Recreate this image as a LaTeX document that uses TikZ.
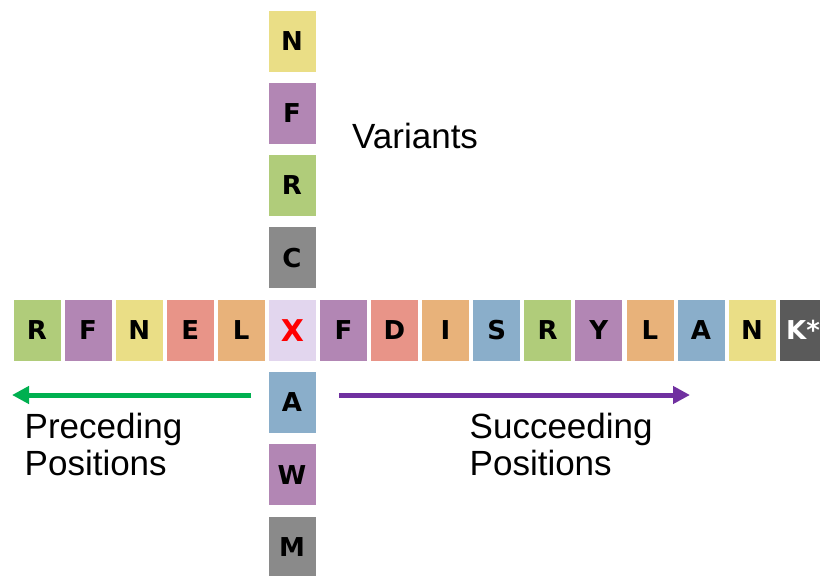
\documentclass[tikz,border=0pt]{standalone}
\usepackage{fontspec}
\setmainfont{Liberation Sans}
\newfontfamily\cellfont{DejaVu Sans}
\usetikzlibrary{arrows.meta}

\definecolor{cgreen}{RGB}{176,204,122}
\definecolor{cpurple}{RGB}{178,134,180}
\definecolor{cyellow}{RGB}{234,222,134}
\definecolor{csalmon}{RGB}{232,148,136}
\definecolor{corange}{RGB}{232,178,122}
\definecolor{cblue}{RGB}{138,174,202}
\definecolor{clav}{RGB}{226,214,238}
\definecolor{cgray}{RGB}{138,138,138}
\definecolor{cdark}{RGB}{90,90,90}
\definecolor{arrgreen}{RGB}{0,176,80}
\definecolor{arrpurple}{RGB}{112,48,160}

\tikzset{
  cell/.style={minimum width=48pt, minimum height=62pt, inner sep=0pt,
    draw=white, line width=0.6pt,
    font=\cellfont\bfseries\fontsize{26}{26}\selectfont,
    text height=19pt, text depth=0pt},
  G/.style={cell, fill=cgreen},
  P/.style={cell, fill=cpurple},
  Y/.style={cell, fill=cyellow},
  S/.style={cell, fill=csalmon},
  O/.style={cell, fill=corange},
  B/.style={cell, fill=cblue},
  H/.style={cell, fill=cgray},
  D/.style={cell, fill=cdark, text=white},
  Xc/.style={cell, fill=clav, text=red,
    font=\cellfont\bfseries\fontsize{30}{30}\selectfont, text height=22pt},
  label text/.style={inner sep=0pt, align=left,
    font=\fontsize{35}{37}\selectfont},
  pos arrow/.style={line width=5pt,
    -{Triangle[length=17pt, width=17pt]}}
}

\begin{document}
\begin{tikzpicture}[x=1pt, y=-1pt]
\useasboundingbox (0,0) rectangle (820,576);
\clip (0,0) rectangle (820,576);

% the sequence row
\foreach \l/\s [count=\i from 0] in
  {R/G, F/P, N/Y, E/S, L/O, X/Xc, F/P, D/S, I/O, S/B, R/G, Y/P, L/O, A/B, N/Y, K*/D}
  \node[\s] (r\i) at ({37+51.07*\i},330) {\l};

% variants above the central position
\foreach \l/\s [count=\k] in {C/H, R/G, F/P, N/Y}
  \node[\s] (v\k) at (292,{330-72.3*\k}) {\l};

% variants below the central position
\foreach \l/\s [count=\k] in {A/B, W/P, M/H}
  \node[\s] (w\k) at (292,{330+72.3*\k}) {\l};

% direction arrows
\coordinate (gs) at (251,395);
\coordinate (ge) at (12,395);
\coordinate (ps) at (339,395);
\coordinate (pe) at (690,395);
\draw[pos arrow, arrgreen] (gs) -- (ge);
\draw[pos arrow, arrpurple] (ps) -- (pe);

% labels
\node[label text, anchor=base west] (var) at (352,148) {Variants};
\node[label text, anchor=north west] (prec) at (24.5,413) {Preceding\\Positions};
\node[label text, anchor=north west] (succ) at (469.5,413) {Succeeding\\Positions};
\end{tikzpicture}
\end{document}
